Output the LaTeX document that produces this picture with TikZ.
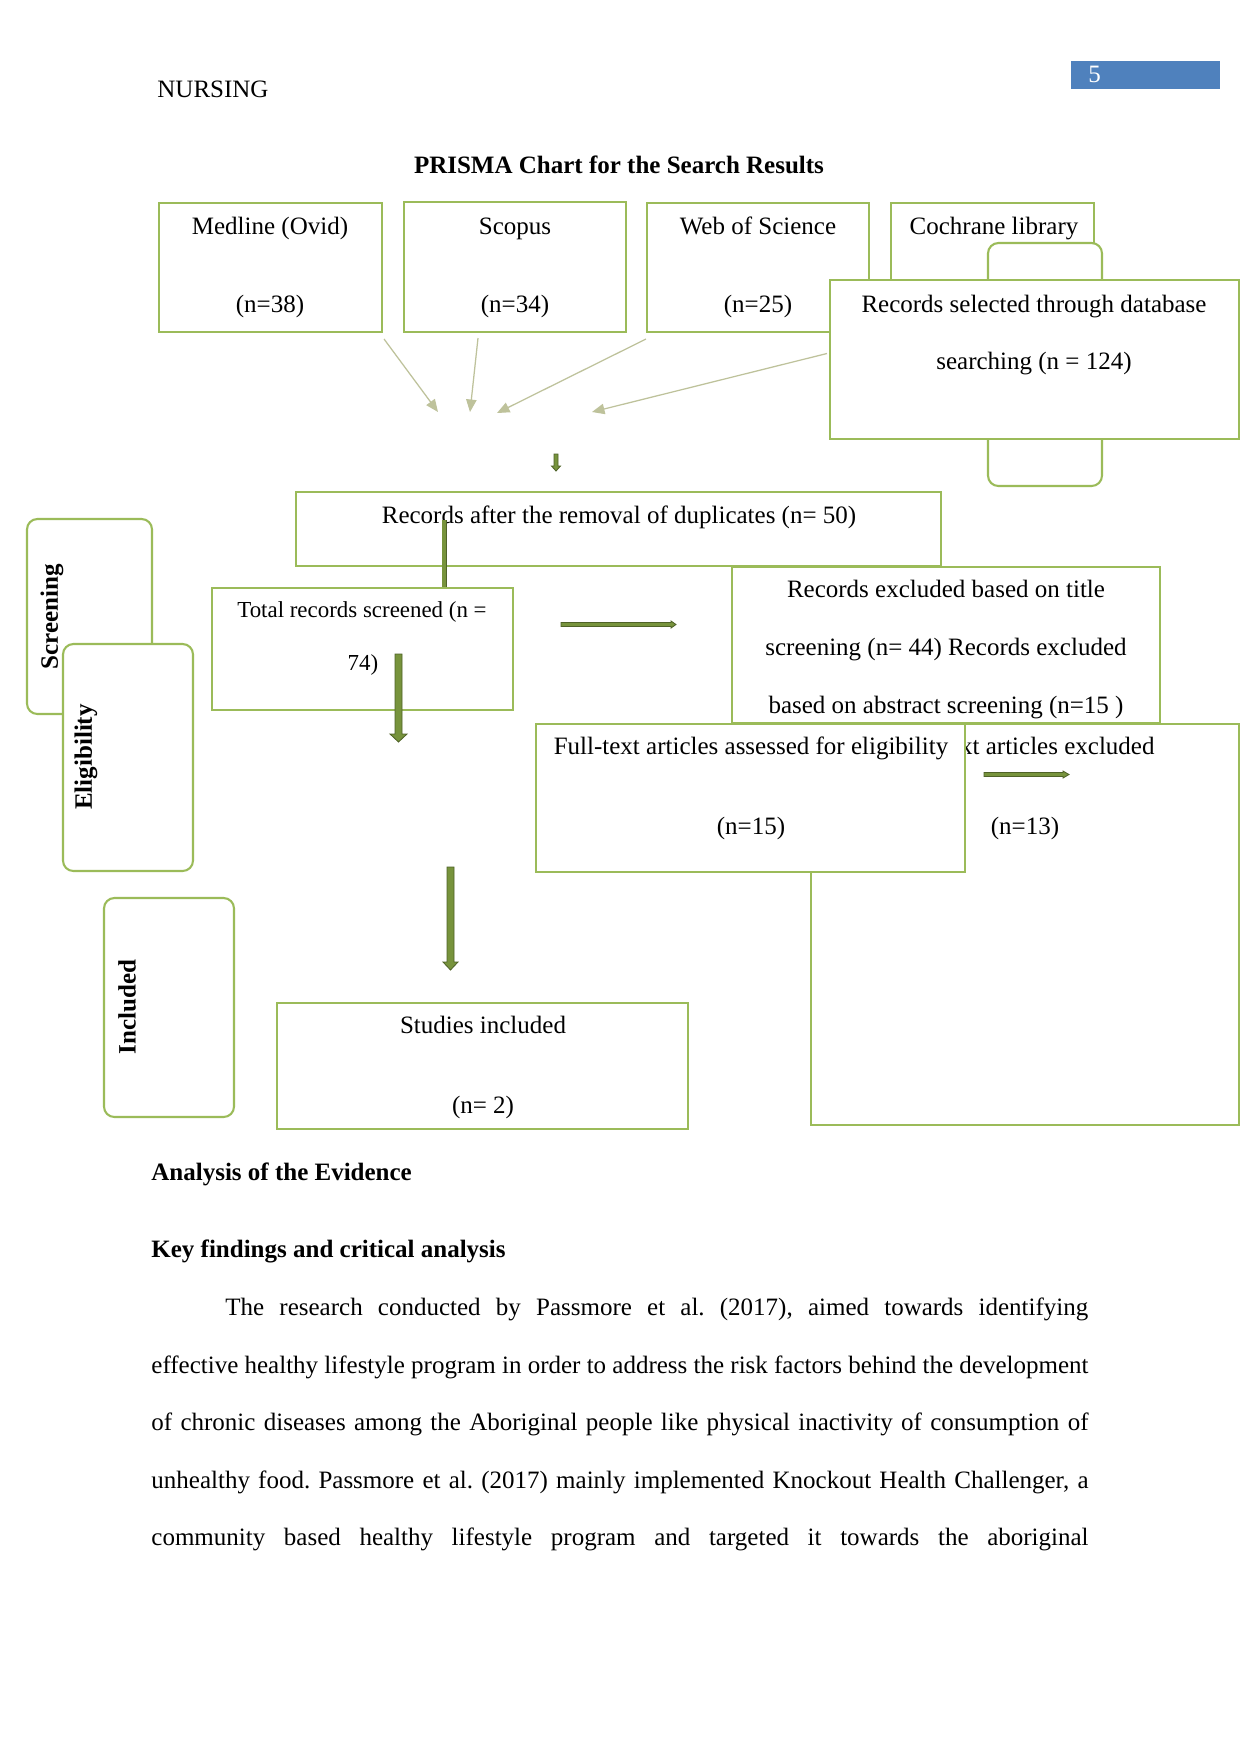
\documentclass[tikz,border=0pt]{standalone}
\usepackage{fontspec}
\setmainfont{Liberation Serif}
\usetikzlibrary{arrows.meta, fit}
\frenchspacing

\definecolor{boxgreen}{HTML}{9BBB59}
\definecolor{thinarrow}{RGB}{190,194,155}
\definecolor{arrowfill}{HTML}{77933C}
\definecolor{arrowline}{HTML}{4F6228}
\definecolor{headblue}{HTML}{4F81BD}

\tikzset{
  box/.style={draw=boxgreen, line width=1pt, fill=white, inner sep=0pt},
  roundbox/.style={box, rounded corners=5pt},
  txt/.style={anchor=base, inner sep=0pt, font=\fontsize{12}{14}\selectfont},
  smalltxt/.style={txt, font=\fontsize{11}{13}\selectfont},
  boldtxt/.style={txt, font=\fontsize{12}{14}\selectfont\bfseries},
  sidetxt/.style={boldtxt, anchor=center, rotate=90},
  bodyline/.style={txt, anchor=base west},
  feed/.style={draw=thinarrow, line width=0.6pt, -{Triangle[length=6pt,width=5pt]}},
  blockarrow/.style={fill=arrowfill, draw=arrowline, line width=0.4pt},
  stem/.style={draw=arrowline, line width=0.4pt, double=arrowfill, double distance=1.6pt}
}

% block arrows: position, start, end, shaft half width, head half width, head length
\newcommand{\arrowdown}[6]{%
  \draw[blockarrow] (#1-#4,#2) -- (#1+#4,#2) -- (#1+#4,#3-#6) -- (#1+#5,#3-#6)
    -- (#1,#3) -- (#1-#5,#3-#6) -- (#1-#4,#3-#6) -- cycle;}
\newcommand{\arrowright}[6]{%
  \draw[blockarrow] (#2,#1-#4) -- (#2,#1+#4) -- (#3-#6,#1+#4) -- (#3-#6,#1+#5)
    -- (#3,#1) -- (#3-#6,#1-#5) -- (#3-#6,#1-#4) -- cycle;}

\begin{document}
\begin{tikzpicture}[x=0.48pt, y=-0.48pt]
  \useasboundingbox[fill=white] (0,0) rectangle (1241,1754);

  % page head
  \fill[headblue] (1071,61) rectangle (1220,89);
  \node[txt, anchor=base west, text=white] (pagenum) at (1088,82) {5};
  \node[txt, anchor=base west] (runhead) at (157,97) {NURSING};
  \node[boldtxt] (title) at (619,173) {PRISMA Chart for the Search Results};

  % databases
  \node[box, fit={(159,203) (382,332)}] (medline) {};
  \node[box, fit={(404,202) (626,332)}] (scopus) {};
  \node[box, fit={(647,203) (869,332)}] (wos) {};
  \node[box, fit={(891,203) (1094,332)}] (cochrane) {};
  \node[txt] (medline-a) at (270,234) {Medline (Ovid)};
  \node[txt] (medline-b) at (270,312) {(n=38)};
  \node[txt] (scopus-a) at (515,234) {Scopus};
  \node[txt] (scopus-b) at (515,312) {(n=34)};
  \node[txt] (wos-a) at (758,234) {Web of Science};
  \node[txt] (wos-b) at (758,312) {(n=25)};
  \node[txt] (cochrane-a) at (994,234) {Cochrane library};

  \node[roundbox, fit={(988,243) (1102,486)}] (tab) {};
  \node[box, fit={(830,280) (1239,439)}] (selected) {};
  \node[txt] (selected-a) at (1034,312) {Records selected through database};
  \node[txt] (selected-b) at (1034,369) {searching (n = 124)};

  % arrows into the merge
  \coordinate (hub1) at (438,412);
  \coordinate (hub2) at (470,412);
  \coordinate (hub3) at (497,413);
  \coordinate (hub4) at (592,412);
  \draw[feed] ([shift={(1,6)}]medline.south east) -- (hub1);
  \draw[feed] ([shift={(-37,5)}]scopus.south) -- (hub2);
  \draw[feed] ([shift={(0,6)}]wos.south west) -- (hub3);
  \draw[feed] ([shift={(-2,-6)}]selected.west) -- (hub4);
  \arrowdown{556}{454}{471}{2}{4.5}{5}

  % screening
  \node[box, fit={(296,492) (941,566)}] (dedup) {};
  \node[txt] (dedup-a) at (619,523) {Records after the removal of duplicates (n= 50)};
  \node[box, fit={(212,588) (513,710)}] (screened) {};
  \node[smalltxt] (screened-a) at (362,617) {Total records screened (n =};
  \node[smalltxt] (screened-b) at (363,670) {74)};
  \coordinate (dedupcut) at (444,520);
  \draw[stem] (dedupcut) -- (dedupcut |- screened.north);
  \arrowdown{398.5}{654}{742}{3.5}{8.5}{8}
  \arrowright{624.5}{561}{676}{2}{3.5}{5}

  \node[box, fit={(732,567) (1160,723)}] (titleex) {};
  \node[txt] (titleex-a) at (946,597) {Records excluded based on title};
  \node[txt] (titleex-b) at (946,655) {screening (n= 44) Records excluded};
  \node[txt] (titleex-c) at (946,713) {based on abstract screening (n=15 )};

  % eligibility
  \node[box, fit={(811,724) (1239,1125)}] (fullex) {};
  \node[txt] (fullex-a) at (1024,754) {Full-text articles excluded};
  \node[txt] (fullex-b) at (1025,834) {(n=13)};
  \node[box, fit={(536,724) (965,872)}] (fulltext) {};
  \node[txt] (fulltext-a) at (751,754) {Full-text articles assessed for eligibility};
  \node[txt] (fulltext-b) at (751,834) {(n=15)};
  \arrowright{774.5}{984}{1069}{2}{3.5}{6}

  % stage labels
  \node[roundbox, fit={(27,519) (152,714)}] (stage1) {};
  \node[sidetxt] (stage1-a) at (52,617) {Screening};
  \node[roundbox, fit={(63,644) (193,871)}] (stage2) {};
  \node[sidetxt] (stage2-a) at (86,757) {Eligibility};
  \node[roundbox, fit={(104,898) (234,1117)}] (stage3) {};
  \node[sidetxt] (stage3-a) at (127,1007) {Included};

  % included
  \arrowdown{450.5}{867}{970}{3.5}{7.5}{8}
  \node[box, fit={(277,1003) (688,1129)}] (studies) {};
  \node[txt] (studies-a) at (483,1033) {Studies included};
  \node[txt] (studies-b) at (483,1113) {(n= 2)};

  % text below the chart
  \node[bodyline, font=\fontsize{12}{14}\selectfont\bfseries] (head1) at (151,1180) {Analysis of the Evidence};
  \node[bodyline, font=\fontsize{12}{14}\selectfont\bfseries] (head2) at (151,1257) {Key findings and critical analysis};
  \node[bodyline] (line1) at (225,1315) {\makebox[414.2pt][s]{The research conducted by Passmore et al. (2017), aimed towards identifying}};
  \node[bodyline] (line2) at (151,1373) {\makebox[449.8pt][s]{effective healthy lifestyle program in order to address the risk factors behind the development}};
  \node[bodyline] (line3) at (151,1430) {\makebox[449.8pt][s]{of chronic diseases among the Aboriginal people like physical inactivity of consumption of}};
  \node[bodyline] (line4) at (151,1488) {\makebox[449.8pt][s]{unhealthy food. Passmore et al. (2017) mainly implemented Knockout Health Challenger, a}};
  \node[bodyline] (line5) at (151,1545) {\makebox[449.8pt][s]{community based healthy lifestyle program and targeted it towards the aboriginal}};
\end{tikzpicture}
\end{document}
